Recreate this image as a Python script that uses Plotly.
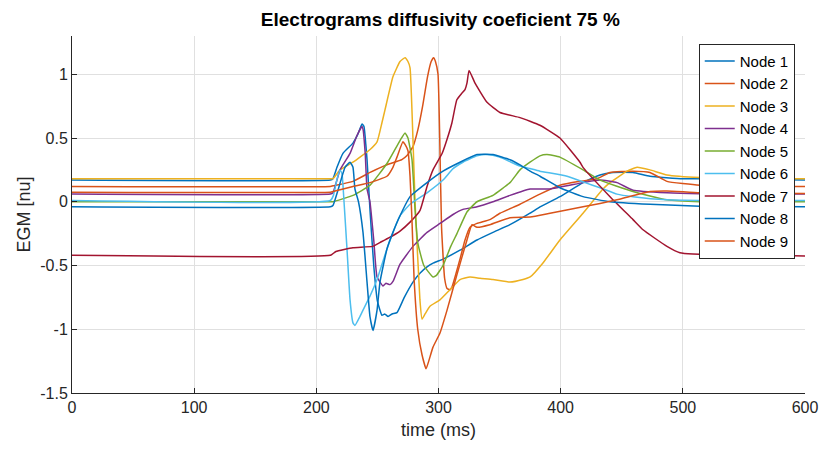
import plotly.graph_objects as go

# Time axis (ms) and EGM amplitude (normalised units) for each node
t_node1 = [0, 211.5, 213.6, 216.9, 221.8, 230, 234, 237.4, 239, 240.5, 241.5, 243.9, 247, 250, 253.7, 256, 258.7,
           262, 266, 272, 279.1, 284.8, 290.6, 296, 303.7, 317.6, 331.5, 344.6, 358.5, 374.9, 383.1, 399.4, 418.3,
           432.2, 442.8, 459.2, 473.1, 500, 514, 600]
v_node1 = [0.17, 0.17, 0.18, 0.27, 0.38, 0.46, 0.53, 0.61, 0.59, 0.45, 0.33, -0.06, -0.5, -0.78, -0.89, -0.88, -0.9,
           -0.88, -0.87, -0.75, -0.63, -0.56, -0.51, -0.48, -0.45, -0.38, -0.3, -0.24, -0.18, -0.09, -0.04, 0.04, 0.15,
           0.21, 0.23, 0.23, 0.2, 0.18, 0.18, 0.17]

t_node2 = [0, 211.5, 213.6, 230, 244, 257.8, 270, 274, 279, 283, 287, 291, 294, 296, 297.5, 299.6, 301, 302.5, 305,
           307, 309.4, 311, 317.6, 321.7, 325.8, 331.5, 342, 350.3, 366.7, 383, 399.4, 415.8, 429.7, 440.4, 459.2,
           473.1, 487, 514, 600]
v_node2 = [0.12, 0.12, 0.125, 0.16, 0.23, 0.29, 0.33, 0.36, 0.43, 0.56, 0.75, 0.98, 1.1, 1.13, 1.1, 1.0, 0.5, -0.2,
           -0.6, -0.68, -0.69, -0.67, -0.45, -0.3, -0.2, -0.17, -0.14, -0.09, -0.02, 0.06, 0.13, 0.16, 0.18, 0.23,
           0.24, 0.23, 0.16, 0.13, 0.12]

t_node3 = [0, 211.5, 213.6, 219.4, 230, 244, 249.7, 253.7, 256.2, 262.7, 268.5, 272.6, 275, 276.7, 279.1, 280.8,
           284.8, 286.5, 289, 293, 301.2, 309.4, 317.6, 325.8, 334, 344.6, 358.5, 369.2, 375, 385.5, 399.4, 418.3,
           434.6, 440.4, 454.3, 462.5, 473.1, 487, 514, 600]
v_node3 = [0.18, 0.18, 0.18, 0.25, 0.31, 0.41, 0.47, 0.62, 0.72, 0.98, 1.1, 1.13, 1.1, 1.05, 0.49, 0.0,
           -0.77, -0.92, -0.88, -0.82, -0.77, -0.69, -0.61, -0.59, -0.6, -0.61, -0.63, -0.61, -0.59, -0.48, -0.3, -0.09,
           0.1, 0.15, 0.24, 0.27, 0.25, 0.21, 0.19, 0.18]

t_node4 = [0, 211.5, 213.6, 219.4, 227.6, 233.3, 237.4, 238.2, 240, 241.5, 243.9, 247, 249.7, 254.6, 257, 260.3,
           263, 268.5, 279.1, 290.6, 301.2, 311.9, 320, 331.5, 344.6, 358.5, 374.9, 391.3, 418.3, 432.2, 446.1,
           459.2, 487, 514, 600]
v_node4 = [0.06, 0.06, 0.07, 0.25, 0.38, 0.52, 0.59, 0.57, 0.38, 0.1, 0.0, -0.3, -0.59, -0.66, -0.64, -0.65,
           -0.62, -0.49, -0.35, -0.24, -0.17, -0.1, -0.06, -0.04, 0.0, 0.05, 0.1, 0.1, 0.15, 0.17, 0.15,
           0.09, 0.07, 0.063, 0.06]

t_node5 = [0, 211.5, 213.6, 230, 244, 257.8, 268.5, 272.6, 275, 278.3, 280.8, 283, 288, 295.5, 298, 303.7, 310,
           315.1, 323.3, 331.5, 344.6, 358.5, 366.7, 374.9, 383, 388.8, 399.4, 418.3, 432.2, 459.2, 487, 514, 600]
v_node5 = [0.0, 0.0, 0.0, 0.05, 0.13, 0.3, 0.48, 0.54, 0.5, 0.33, -0.06, -0.32, -0.5, -0.59, -0.58, -0.5, -0.35,
           -0.25, -0.08, 0.0, 0.05, 0.15, 0.25, 0.31, 0.36, 0.37, 0.35, 0.25, 0.17, 0.08, 0.015, 0.0, 0.0]

t_node6 = [0, 211.5, 214, 217, 219.4, 221, 222.6, 225.1, 227.6, 230, 231.6, 235.7, 238.2, 243.9, 249.7, 257.8,
           268.5, 276.7, 290.6, 303.7, 311.9, 320, 331.5, 340, 350, 366.7, 374.9, 383, 405.2, 420, 432.2, 446.1,
           459.2, 487, 514, 600]
v_node6 = [0.01, 0.01, 0.05, 0.18, 0.25, 0.22, 0.01, -0.37, -0.77, -0.95, -0.97, -0.9, -0.85, -0.74, -0.61, -0.37,
           -0.11, -0.02, 0.07, 0.17, 0.26, 0.31, 0.36, 0.37, 0.35, 0.28, 0.26, 0.24, 0.2, 0.15, 0.11, 0.06,
           0.04, 0.015, 0.01, 0.01]

t_node7 = [0, 211.5, 216, 230, 246, 252, 260, 268.5, 276.7, 284.8, 290.6, 295.5, 303, 307, 311, 315, 319, 321.7,
           323.3, 325, 329.9, 339.7, 350.3, 366.7, 383, 399.4, 415.8, 418.3, 440.4, 459.2, 467.4, 487, 497.6, 508.3,
           600]
v_node7 = [-0.42, -0.42, -0.39, -0.36, -0.35, -0.32, -0.28, -0.23, -0.16, -0.07, 0.12, 0.25, 0.38, 0.49, 0.62,
           0.8, 0.85, 0.88, 0.93, 1.03, 0.93, 0.78, 0.7, 0.66, 0.6, 0.5, 0.31, 0.27, 0.04, -0.14, -0.22, -0.35,
           -0.4, -0.41, -0.425]

t_node8 = [0, 211.5, 213.6, 217.7, 223.5, 227.6, 230, 231.6, 234.5, 238.2, 241.5, 243.9, 246.4, 249.7, 252.1,
           257.8, 262.7, 268.5, 276.7, 290.6, 303.7, 317.6, 331.5, 344.6, 358.5, 366.7, 374.9, 383.1, 399.4, 418.3,
           440.4, 473.1, 514, 600]
v_node8 = [-0.04, -0.04, -0.03, 0.09, 0.27, 0.31, 0.27, 0.1, 0.0, -0.24, -0.63, -0.9, -1.01, -0.85, -0.63,
           -0.37, -0.24, -0.11, 0.04, 0.15, 0.24, 0.31, 0.37, 0.37, 0.33, 0.29, 0.24, 0.2, 0.11, 0.04,
           0.0, -0.02, -0.035, -0.04]

t_node9 = [0, 211.5, 213.6, 230, 244, 257.8, 262.7, 266, 270.9, 272.6, 275, 276.7, 278.3, 280, 283, 286.5, 289.8,
           292, 295.5, 301.2, 307, 315.1, 323.3, 327.4, 331.5, 342, 358.5, 375, 391.3, 418.3, 446.1, 473.1, 487,
           514, 600]
v_node9 = [0.075, 0.075, 0.08, 0.12, 0.15, 0.2, 0.27, 0.35, 0.47, 0.45, 0.4, 0.2, -0.15, -0.6, -1.0, -1.2, -1.31,
           -1.25, -1.14, -1.03, -0.85, -0.57, -0.3, -0.18, -0.2, -0.18, -0.125, -0.12, -0.09, -0.04, 0.015, 0.08,
           0.085, 0.07, 0.065]

node_names = ["Node 1", "Node 2", "Node 3", "Node 4", "Node 5", "Node 6", "Node 7", "Node 8", "Node 9"]
x_ticks = [0, 100, 200, 300, 400, 500, 600]
y_ticks = [-1.5, -1, -0.5, 0, 0.5, 1]
y_tick_text = ["-1.5", "-1", "-0.5", "0", "0.5", "1"]

series = [(t_node1, v_node1), (t_node2, v_node2), (t_node3, v_node3), (t_node4, v_node4), (t_node5, v_node5),
          (t_node6, v_node6), (t_node7, v_node7), (t_node8, v_node8), (t_node9, v_node9)]
colors = ["#0072BD", "#D95319", "#EDB120", "#7E2F8E", "#77AC30", "#4DBEEE", "#A2142F", "#0072BD", "#D95319"]

FONT = "Liberation Sans, Arial, sans-serif"
AX = "#262626"

fig = go.Figure()
for name, (t, v), c in zip(node_names, series, colors):
    fig.add_trace(go.Scatter(x=t, y=v, mode="lines", name=name,
                             line=dict(color=c, width=1.5, shape="spline", smoothing=0.4)))

fig.update_layout(
    width=820, height=450,
    margin=dict(l=72, r=15, t=36, b=57),
    paper_bgcolor="white", plot_bgcolor="white",
    font=dict(family=FONT, color=AX),
    title=dict(text="<b>Electrograms diffusivity coeficient 75 %</b>", x=0.537, xanchor="center",
               y=0.958, yanchor="middle", yref="container", font=dict(size=19, color="black")),
    legend=dict(x=0.986, xanchor="right", y=0.978, yanchor="top", bgcolor="white",
                bordercolor=AX, borderwidth=1, font=dict(size=15, color="black"),
                itemwidth=30, tracegroupgap=0),
    showlegend=True,
)
fig.update_xaxes(range=[0, 600], tickvals=x_ticks, showgrid=True, gridcolor="#e0e0e0", gridwidth=1,
                 showline=True, linecolor=AX, linewidth=1, ticks="inside", ticklen=5, tickcolor=AX,
                 zeroline=False, tickfont=dict(size=16), automargin=False,
                 title=dict(text="time (ms)", font=dict(size=18), standoff=8))
fig.update_yaxes(range=[-1.5, 1.3], tickvals=y_ticks, ticktext=y_tick_text, showgrid=True, gridcolor="#e0e0e0",
                 gridwidth=1, showline=True, linecolor=AX, linewidth=1, ticks="inside", ticklen=5, tickcolor=AX,
                 zeroline=False, tickfont=dict(size=16), automargin=False,
                 title=dict(text="EGM [nu]", font=dict(size=18), standoff=4))

fig.write_html("out.html")
